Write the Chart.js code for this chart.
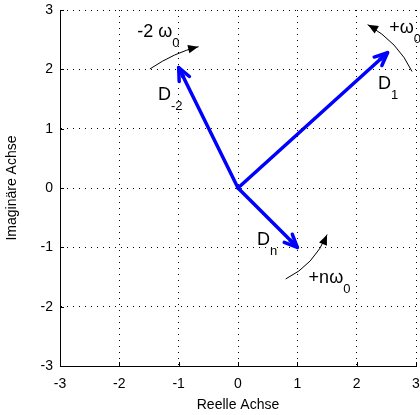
<!DOCTYPE html>
<html>
<head>
<meta charset="utf-8">
<script src="https://cdn.jsdelivr.net/npm/chart.js@4"></script>
<style>
  html, body { margin: 0; padding: 0; background: #fff; }
  #wrap { width: 420px; height: 415px; }
</style>
</head>
<body>
<div id="wrap"><canvas id="phasorChart" width="420" height="415"></canvas></div>
<script>
// --- Data ---

const axisTicks = [-3, -2, -1, 0, 1, 2, 3];

// phasor tips (start at origin)
const phasorNames = ['D-2', 'D1', 'Dn'];
const phasorX = [-1, 2.52, 1];
const phasorY = [2.03, 2.28, -1];

// rotation arcs: start, bend, end (data units)
const arcStartX = [-1.48, 2.93, 0.81];
const arcStartY = [2.01, 1.97, -1.53];
const arcBendX = [-1.06, 2.70, 1.28];
const arcBendY = [2.29, 2.46, -1.30];
const arcEndX = [-0.67, 2.19, 1.50];
const arcEndY = [2.38, 2.75, -0.79];

// text labels: main text, subscript, anchor (left, baseline)
const labelMain = ['-2 ω', 'D', '+ω', 'D', 'D', '+nω'];
const labelSub = ['0', '-2', '0', '1', 'n', '0'];
const labelX = [-1.70, -1.35, 2.55, 2.36, 0.32, 1.19];
const labelY = [2.55, 1.48, 2.61, 1.67, -0.96, -1.60];
const labelSize = [18, 18, 18, 18, 18, 18];

const FONT = "'Liberation Sans', Arial, Helvetica, sans-serif";
const BLUE = '#0000ff';

// --- Helpers ---

function arrowHead(ctx, tipX, tipY, angle, len, spread, filled) {
  const a1 = angle + Math.PI - spread;
  const a2 = angle + Math.PI + spread;
  ctx.beginPath();
  ctx.moveTo(tipX + len * Math.cos(a1), tipY + len * Math.sin(a1));
  ctx.lineTo(tipX, tipY);
  ctx.lineTo(tipX + len * Math.cos(a2), tipY + len * Math.sin(a2));
  if (filled) {
    ctx.closePath();
    ctx.fill();
  } else {
    ctx.stroke();
  }
}

// fixed plot box: drop the label overflow padding chart.js adds
function fitX(s) {
  s.height = 49;
  s.paddingLeft = 0;
  s.paddingRight = 0;
}
function fitY(s) {
  s.width = 60;
  s.paddingTop = 0;
  s.paddingBottom = 0;
}

// --- Plugins ---

const phasorDecor = {
  id: 'phasorDecor',
  afterDatasetsDraw(chart) {
    const { ctx, scales: { x, y }, chartArea } = chart;
    ctx.save();

    // inward axis ticks (MATLAB style)
    ctx.strokeStyle = '#000';
    ctx.lineWidth = 1;
    ctx.beginPath();
    axisTicks.forEach(t => {
      const px = Math.round(x.getPixelForValue(t)) + 0.5;
      ctx.moveTo(px, chartArea.bottom);
      ctx.lineTo(px, chartArea.bottom - 4);
      const py = Math.round(y.getPixelForValue(t)) + 0.5;
      ctx.moveTo(chartArea.left, py);
      ctx.lineTo(chartArea.left + 4, py);
    });
    ctx.stroke();

    // blue arrowheads on the phasors
    ctx.strokeStyle = BLUE;
    ctx.fillStyle = BLUE;
    ctx.lineWidth = 3.5;
    ctx.lineCap = 'round';
    ctx.lineJoin = 'round';
    phasorX.forEach((vx, i) => {
      const ox = x.getPixelForValue(0), oy = y.getPixelForValue(0);
      const tx = x.getPixelForValue(vx), ty = y.getPixelForValue(phasorY[i]);
      const ang = Math.atan2(ty - oy, tx - ox);
      arrowHead(ctx, tx, ty, ang, 14, 0.42, false);
      arrowHead(ctx, tx, ty, ang, 11, 0.2, true);
    });

    // black rotation arcs
    ctx.strokeStyle = '#000';
    ctx.fillStyle = '#000';
    ctx.lineWidth = 1;
    arcStartX.forEach((sx, i) => {
      const x0 = x.getPixelForValue(sx), y0 = y.getPixelForValue(arcStartY[i]);
      const cx = x.getPixelForValue(arcBendX[i]), cy = y.getPixelForValue(arcBendY[i]);
      const x1 = x.getPixelForValue(arcEndX[i]), y1 = y.getPixelForValue(arcEndY[i]);
      ctx.beginPath();
      ctx.moveTo(x0, y0);
      ctx.quadraticCurveTo(cx, cy, x1, y1);
      ctx.stroke();
      arrowHead(ctx, x1, y1, Math.atan2(y1 - cy, x1 - cx), 11, 0.4, true);
    });

    // labels with subscripts
    ctx.fillStyle = '#000';
    ctx.textBaseline = 'alphabetic';
    ctx.textAlign = 'left';
    labelMain.forEach((txt, i) => {
      const px = x.getPixelForValue(labelX[i]);
      const py = y.getPixelForValue(labelY[i]);
      ctx.font = `${labelSize[i]}px ${FONT}`;
      ctx.fillText(txt, px, py);
      const w = ctx.measureText(txt).width;
      ctx.font = `${Math.round(labelSize[i] * 0.72)}px ${FONT}`;
      ctx.fillText(labelSub[i], px + w, py + 10);
    });

    ctx.restore();
  },
};

// --- Chart ---

function initPhasorChart() {
  const ctx = document.getElementById('phasorChart').getContext('2d');
  new Chart(ctx, {
    type: 'scatter',
    data: {
      datasets: phasorNames.map((name, i) => ({
        label: name,
        data: [{ x: 0, y: 0 }, { x: phasorX[i], y: phasorY[i] }],
        showLine: true,
        borderColor: BLUE,
        borderWidth: 3.5,
        pointRadius: 0,
        borderCapStyle: 'round',
      })),
    },
    options: {
      responsive: false,
      animation: false,
      layout: { padding: { top: 10, right: 4, left: 0, bottom: 0 } },
      plugins: {
        legend: { display: false },
        tooltip: { enabled: false },
      },
      scales: {
        x: {
          type: 'linear',
          min: -3,
          max: 3,
          afterFit: fitX,
          afterBuildTicks: s => { s.ticks = axisTicks.map(v => ({ value: v })); },
          ticks: {
            color: '#000',
            padding: 10,
            maxRotation: 0,
            font: { family: FONT, size: 14 },
          },
          grid: { color: '#000', lineWidth: 1, drawTicks: false },
          border: { color: '#000', width: 1, dash: [1, 5] },
          title: {
            display: true,
            text: 'Reelle Achse',
            color: '#000',
            padding: { top: 0, bottom: 1 },
            font: { family: FONT, size: 14 },
          },
        },
        y: {
          type: 'linear',
          min: -3,
          max: 3,
          afterFit: fitY,
          afterBuildTicks: s => { s.ticks = axisTicks.map(v => ({ value: v })); },
          ticks: {
            color: '#000',
            padding: 7,
            font: { family: FONT, size: 14 },
          },
          grid: { color: '#000', lineWidth: 1, drawTicks: false },
          border: { color: '#000', width: 1, dash: [1, 5] },
          title: {
            display: true,
            text: 'Imaginäre Achse',
            color: '#000',
            padding: { top: 4, bottom: 0 },
            font: { family: FONT, size: 14 },
          },
        },
      },
    },
    plugins: [phasorDecor],
  });
}

document.addEventListener('DOMContentLoaded', initPhasorChart);
</script>
</body>
</html>
